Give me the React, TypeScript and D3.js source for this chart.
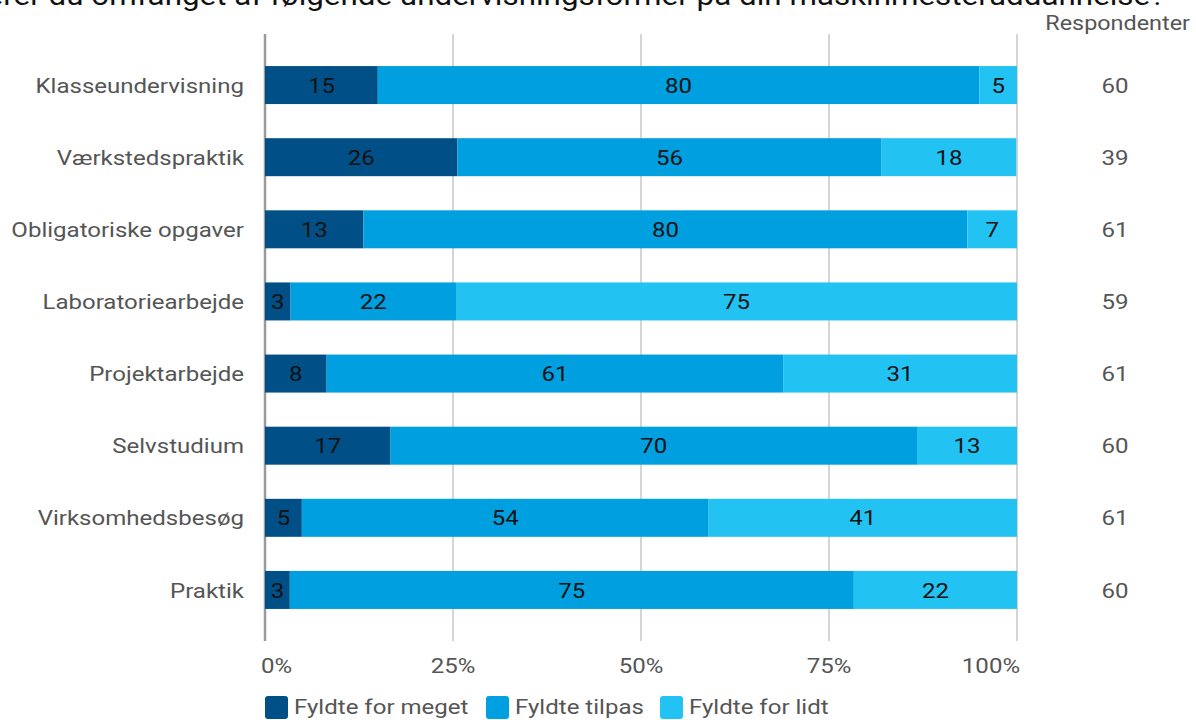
import React from 'react';
import * as d3 from 'd3';

const categories = [
  'Klasseundervisning',
  'Værkstedspraktik',
  'Obligatoriske opgaver',
  'Laboratoriearbejde',
  'Projektarbejde',
  'Selvstudium',
  'Virksomhedsbesøg',
  'Praktik',
];
const seriesNames = ['Fyldte for meget', 'Fyldte tilpas', 'Fyldte for lidt'];
const forMeget = [15.0, 25.6, 13.1, 3.4, 8.2, 16.7, 4.9, 3.3];
const tilpas = [80.0, 56.4, 80.3, 22.0, 60.7, 70.0, 54.1, 75.0];
const forLidt = [5.0, 17.9, 6.6, 74.6, 31.1, 13.3, 41.0, 21.7];
const respondenter = [60, 39, 61, 59, 61, 60, 61, 60];
const ticks = [0, 25, 50, 75, 100];
const colors = ['#005087', '#009FDF', '#22C3F3'];
const title = 'Hvordan vurderer du omfanget af følgende undervisningsformer på din maskinmesteruddannelse?';

const W = 1196;
const H = 720;
const FONT = 'Roboto, "Noto Sans", sans-serif';
const SX = 1.145;

function T({ x, y, anchor = 'start', size = 21, fill = '#555', dy = '0', sx = SX, children }: any) {
  return (
    <g transform={`translate(${x},${y}) scale(${sx},1)`}>
      <text x={0} y={0} dy={dy} textAnchor={anchor} fontSize={size} fill={fill}>{children}</text>
    </g>
  );
}

export default function App() {
  const x = d3.scaleLinear().domain([0, 100]).range([265, 1017]);
  const y = d3.scalePoint<string>().domain(categories).range([49, 626]).padding(0.5);
  const barH = 38;
  const series = [forMeget, tilpas, forLidt];
  const fmt = d3.format('.0f');
  const stackData = categories.map((c, i) => ({ cat: c, s0: forMeget[i], s1: tilpas[i], s2: forLidt[i] }));
  const stacked = d3.stack<any>().keys(['s0', 's1', 's2'])(stackData);

  const legendX = [265, 486, 660];

  return (
    <svg width={W} height={H} style={{ position: 'absolute', left: 0, top: 0, fontFamily: FONT }}>
      <rect width={W} height={H} fill="#fff" />
      <T x={1165} y={5} anchor="end" size={28} fill="#111" sx={1.12}>{title}</T>
      <T x={1190} y={30} anchor="end" size={20} fill="#555" sx={1.17}>Respondenter</T>

      {ticks.map((t) => (
        <line key={'g' + t} x1={x(t)} x2={x(t)} y1={34} y2={641} stroke={t === 0 ? '#9a9a9a' : '#ababab'} strokeWidth={t === 0 ? 2.5 : 1} />
      ))}

      {stacked.map((layer, si) =>
        layer.map((d, i) => {
          const cy = y(categories[i])!;
          const x0 = x(d[0]);
          const x1 = x(d[1]);
          return (
            <g key={si + '-' + i}>
              <rect x={x0} y={cy - barH / 2} width={x1 - x0} height={barH} fill={colors[si]} />
              <T x={(x0 + x1) / 2} y={cy} dy="0.36em" anchor="middle" size={21} fill="#111">
                {fmt(series[si][i])}
              </T>
            </g>
          );
        })
      )}

      {categories.map((c) => (
        <T key={'c' + c} x={244} y={y(c)!} dy="0.36em" anchor="end" size={21} fill="#555">{c}</T>
      ))}

      {respondenter.map((r, i) => (
        <T key={'r' + i} x={1115} y={y(categories[i])!} dy="0.36em" anchor="middle" size={21} fill="#555">{r}</T>
      ))}

      {ticks.map((t, i) => (
        <T
          key={'t' + t}
          x={i === 0 ? x(t) - 4 : i === ticks.length - 1 ? x(t) + 3 : x(t)}
          y={673}
          anchor={i === 0 ? 'start' : i === ticks.length - 1 ? 'end' : 'middle'}
          size={21}
          fill="#555"
        >
          {t}%
        </T>
      ))}

      {seriesNames.map((n, i) => (
        <g key={'l' + n}>
          <rect x={legendX[i]} y={696} width={23} height={23} rx={3} fill={colors[i]} />
          <T x={legendX[i] + 29} y={714} size={21} fill="#555">{n}</T>
        </g>
      ))}
    </svg>
  );
}
